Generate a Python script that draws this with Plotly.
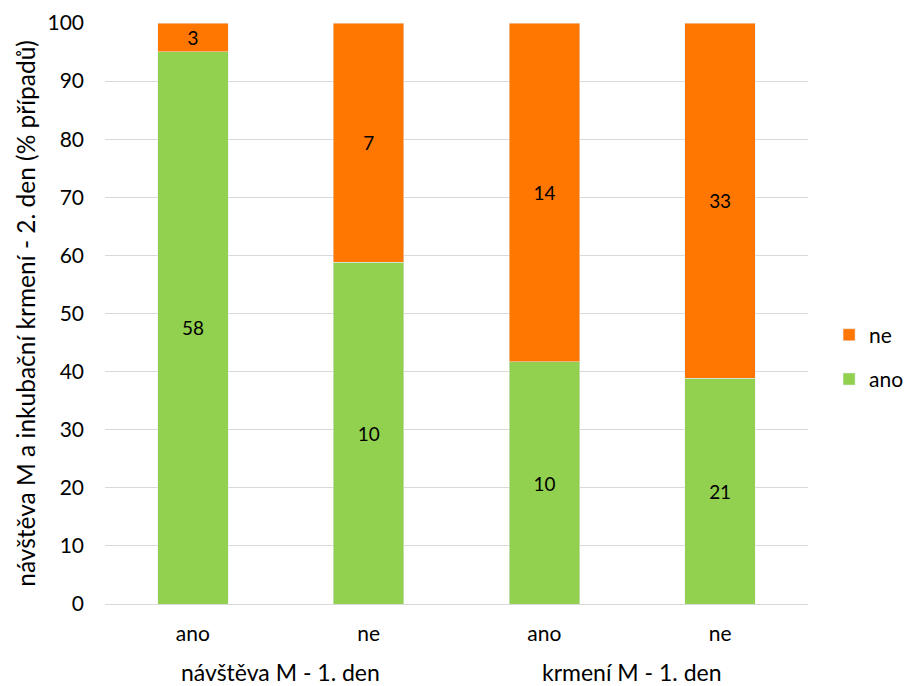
import plotly.graph_objects as go

group_names = ["návštěva M - 1. den", "krmení M - 1. den"]
subcats = ["ano", "ne", "ano", "ne"]
count_ano = [58, 10, 10, 21]
count_ne = [3, 7, 14, 33]

positions = list(range(len(subcats)))
group_centers = [0.5, 2.5]

totals = [a + n for a, n in zip(count_ano, count_ne)]
pct_ano = [a / t * 100 for a, t in zip(count_ano, totals)]
pct_ne = [n / t * 100 for n, t in zip(count_ne, totals)]

FONT = "Lato"
fig = go.Figure()
fig.add_trace(go.Bar(
    x=positions, y=pct_ano, name="ano", marker_color="#92D050",
    text=[str(v) for v in count_ano], textposition="inside", insidetextanchor="middle",
    textangle=0, textfont=dict(color="black", size=21, family=FONT),
    legendrank=2, legendgroup="g2", hoverinfo="skip"))
fig.add_trace(go.Bar(
    x=positions, y=pct_ne, name="ne", marker_color="#FF7700",
    text=[str(v) for v in count_ne], textposition="inside", insidetextanchor="middle",
    textangle=0, textfont=dict(color="black", size=21, family=FONT),
    legendrank=1, legendgroup="g1", hoverinfo="skip"))

for name, c in zip(group_names, group_centers):
    fig.add_annotation(x=c, xref="x", y=-0.117, yref="paper", text=name,
                       showarrow=False, xanchor="center", yanchor="middle",
                       font=dict(size=23, family=FONT))

fig.update_layout(
    barmode="stack", bargap=0.6,
    width=909, height=686,
    margin=dict(l=105, r=101, t=23, b=82, autoexpand=False),
    paper_bgcolor="white", plot_bgcolor="white",
    font=dict(family=FONT, size=21, color="black"),
    uniformtext=dict(minsize=10, mode="show"),
    legend=dict(x=1.03, y=0.425, xanchor="left", yanchor="middle",
                traceorder="grouped", tracegroupgap=14,
                font=dict(size=21, family=FONT)),
    xaxis=dict(tickmode="array", tickvals=positions, ticktext=subcats,
               range=[-0.5, 3.5], showline=False, ticks="", showgrid=False,
               tickfont=dict(size=21), ticklabelstandoff=15, automargin=False),
    yaxis=dict(range=[0, 100], dtick=10, showgrid=True, gridcolor="#D9D9D9", gridwidth=1.3,
               zeroline=True, zerolinecolor="#D9D9D9", zerolinewidth=1.3,
               tickfont=dict(size=21), ticklabelstandoff=20, automargin=False,
               title=dict(text="návštěva M a inkubační krmení - 2. den (% případů)",
                          font=dict(size=24.5), standoff=4)),
)

fig.write_html("out.html")
